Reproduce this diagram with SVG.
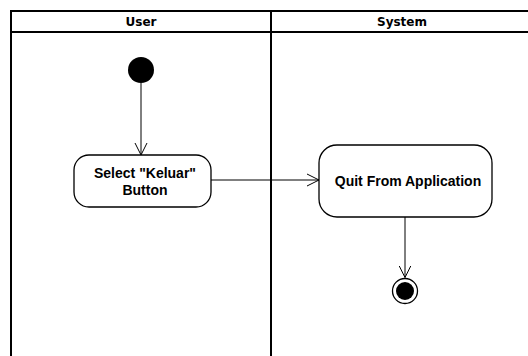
<svg xmlns="http://www.w3.org/2000/svg" width="528" height="356" viewBox="0 0 528 356">
<defs>
<marker id="open" markerWidth="14" markerHeight="14" refX="12" refY="6" orient="auto" markerUnits="userSpaceOnUse" viewBox="0 0 14 12">
<path d="M0,0 L12,6 L0,12" fill="none" stroke="#000" stroke-width="1"/>
</marker>
<style>
.lane{fill:none;stroke:#000;stroke-width:2}
.hdr{font-family:"DejaVu Sans","Liberation Sans",sans-serif;font-weight:bold;font-size:12px;text-anchor:middle;fill:#000}
.act{fill:#fff;stroke:#000;stroke-width:1.3}
.lbl{font-family:"Liberation Sans",Arial,sans-serif;font-weight:bold;font-size:14px;text-anchor:middle;fill:#000}
.edge{fill:none;stroke:#000;stroke-width:1;marker-end:url(#open)}
</style>
</defs>
<rect width="528" height="356" fill="#fff"/>
<g id="swimlanes">
<rect class="lane" x="11" y="11" width="522" height="350"/>
<line class="lane" x1="11" y1="32" x2="533" y2="32"/>
<line class="lane" x1="271" y1="11" x2="271" y2="361"/>
<text class="hdr" x="141" y="26">User</text>
<text class="hdr" x="402" y="26">System</text>
</g>
<g id="connectors">
<line class="edge" x1="141" y1="83" x2="141" y2="155"/>
<line class="edge" x1="211" y1="180" x2="319" y2="180"/>
<line class="edge" x1="405" y1="217" x2="405" y2="277.5"/>
</g>
<g id="start">
<circle cx="141" cy="70" r="13" fill="#000"/>
</g>
<g id="select-keluar">
<rect class="act" x="74" y="155" width="137" height="52" rx="15"/>
<text class="lbl" x="145" y="178">Select "Keluar"</text>
<text class="lbl" x="145" y="195">Button</text>
</g>
<g id="quit">
<rect class="act" x="319" y="145" width="173" height="72" rx="18"/>
<text class="lbl" x="408" y="186">Quit From Application</text>
</g>
<g id="end">
<circle cx="405" cy="291" r="12.5" fill="#fff" stroke="#000" stroke-width="1.3"/>
<circle cx="405" cy="291" r="9" fill="#000"/>
</g>
</svg>
